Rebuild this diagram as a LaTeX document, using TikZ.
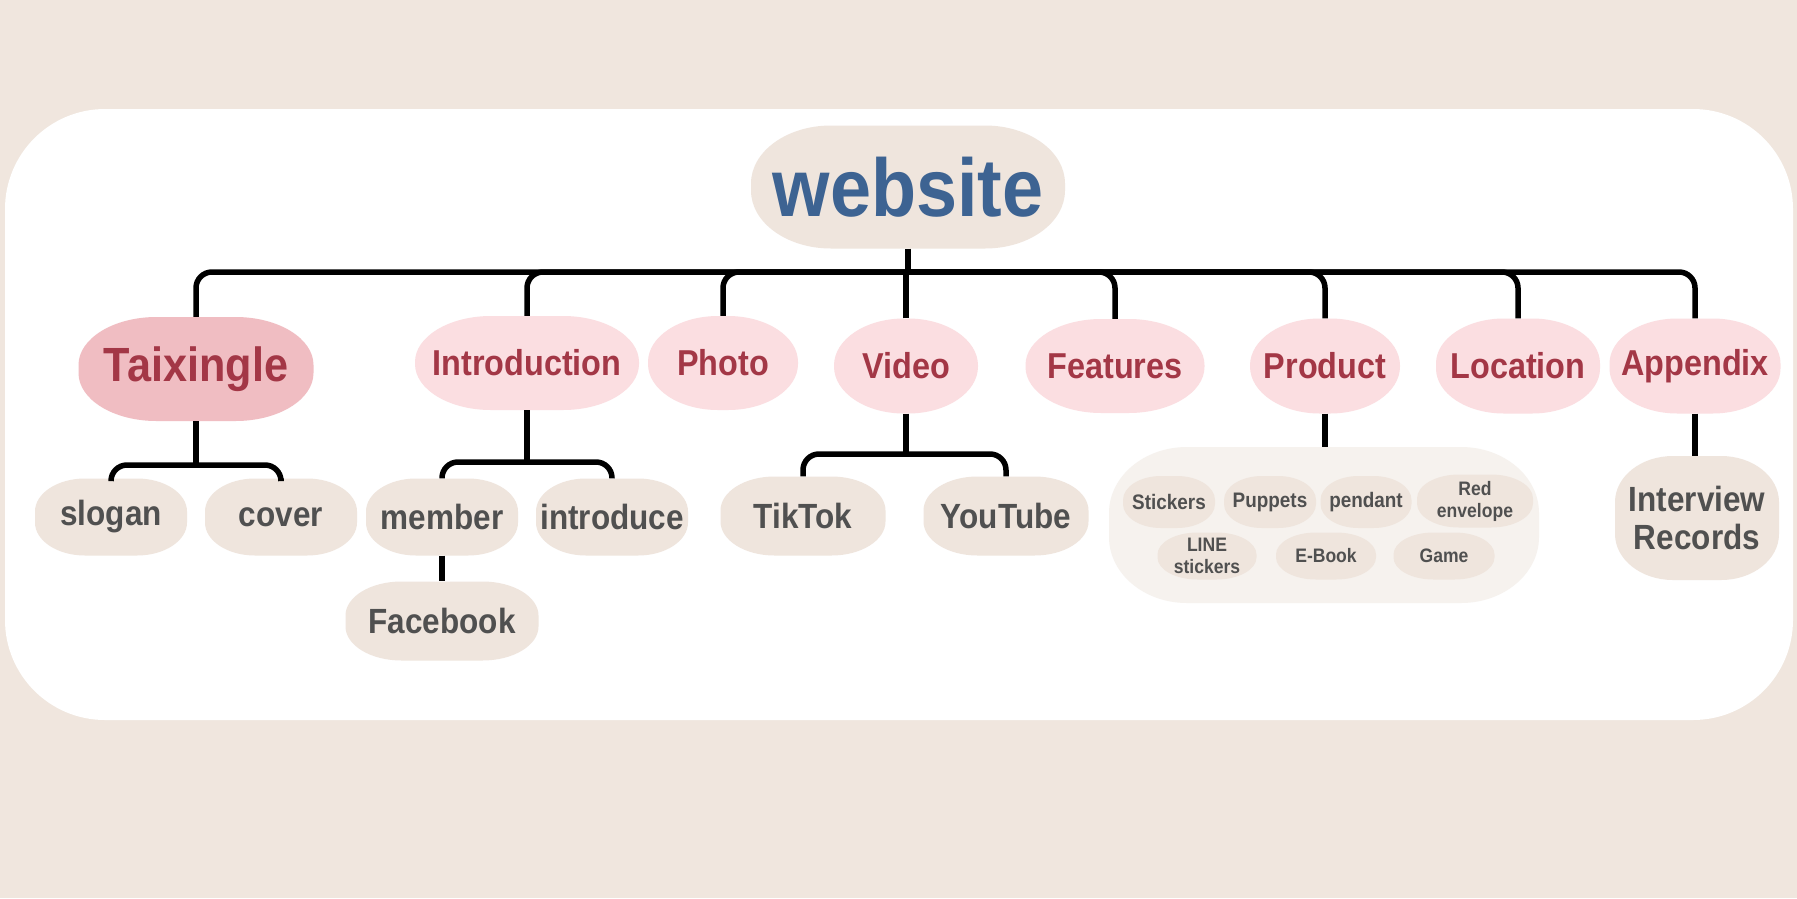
\documentclass[tikz,border=0pt]{standalone}
\usepackage{fontspec}
\setmainfont{Liberation Sans}[FakeStretch=0.9]
\definecolor{bgbeige}{RGB}{240,230,222}
\definecolor{nodebeige}{RGB}{239,229,221}
\definecolor{groupbeige}{RGB}{246,242,238}
\definecolor{pinkfill}{RGB}{251,222,225}
\definecolor{taifill}{RGB}{240,189,194}
\definecolor{redtext}{RGB}{163,55,70}
\definecolor{bluetext}{RGB}{61,99,146}
\definecolor{graytext}{RGB}{80,80,80}
% #1 style, #2 name, #3 cx, #4 cy, #5 w, #6 h, #7 corner x radius, #8 corner y radius, #9 text
\newcommand{\blobnode}[9]{%
  \fill[#1] ({#3-#5/2+#7},{#4-#6/2}) -- ++({#5-2*#7},0)
    arc[start angle=-90,end angle=0,x radius=#7,y radius=#8] -- ++(0,{#6-2*#8})
    arc[start angle=0,end angle=90,x radius=#7,y radius=#8] -- ++({-(#5-2*#7)},0)
    arc[start angle=90,end angle=180,x radius=#7,y radius=#8] -- ++(0,{-(#6-2*#8)})
    arc[start angle=180,end angle=270,x radius=#7,y radius=#8] -- cycle;
  \node[#1, fill=none, minimum width=#5pt, minimum height=#6pt] (#2) at (#3,#4) {#9};}
\begin{document}
\begin{tikzpicture}[x=1pt,y=-1pt,
  conn/.style={line width=5.5pt, black, rounded corners=16pt},
  base/.style={rectangle, inner sep=0pt, align=center},
  rootstyle/.style={base, fill=nodebeige, text=bluetext, font=\bfseries\fontsize{82}{90}\selectfont},
  taistyle/.style={base, fill=taifill, text=redtext, font=\bfseries\fontsize{48}{52}\selectfont},
  toplvl/.style={base, fill=pinkfill, text=redtext, font=\bfseries\fontsize{36}{40}\selectfont},
  sublvl/.style={base, fill=nodebeige, text=graytext, font=\bfseries\fontsize{35}{38}\selectfont},
  groupstyle/.style={base, fill=groupbeige},
  item/.style={base, fill=nodebeige, text=graytext, font=\bfseries\fontsize{21}{24}\selectfont},
  itemb/.style={base, fill=nodebeige, text=graytext, font=\bfseries\fontsize{19.5}{22}\selectfont}]
\useasboundingbox (0,0) rectangle (1797,898);
\fill[bgbeige] (0,0) rectangle (1797,898);
\fill[white, rounded corners=100pt] (5,109) rectangle (1793,720);

% root
\blobnode{rootstyle}{web}{908}{187}{314}{123}{80}{58}{website}

% top level
\blobnode{taistyle}{tai}{196}{369}{235}{104}{78}{48}{Taixingle}
\blobnode{toplvl}{intro}{527}{363}{224}{94}{76}{46}{Introduction}
\blobnode{toplvl}{photo}{723}{363}{150}{94}{70}{46}{Photo}
\blobnode{toplvl}{video}{906}{366}{144}{95}{70}{47}{Video}
\blobnode{toplvl}{feat}{1115}{366}{179}{94}{76}{46}{Features}
\blobnode{toplvl}{prod}{1325}{366}{150}{95}{70}{47}{Product}
\blobnode{toplvl}{loc}{1518}{366}{164}{95}{68}{45}{Location}
\blobnode{toplvl}{app}{1695}{366}{171}{95}{68}{45}{Appendix}

% second level
\blobnode{sublvl}{slogan}{111}{517}{152}{77}{50}{33}{slogan}
\blobnode{sublvl}{cover}{281}{517}{152}{77}{50}{33}{cover}
\blobnode{sublvl}{member}{442}{517}{152}{77}{50}{33}{member}
\blobnode{sublvl}{introduce}{612}{517}{152}{77}{50}{33}{introduce}
\blobnode{sublvl}{fb}{442}{621}{193}{79}{56}{34}{Facebook}
\blobnode{sublvl}{tiktok}{803}{516}{165}{79}{54}{34}{TikTok}
\blobnode{sublvl}{yt}{1006}{516}{165}{79}{54}{34}{YouTube}
\blobnode{sublvl}{interview}{1697}{518}{164}{124}{58}{46}{Interview\\Records}

% product group
\blobnode{groupstyle}{group}{1324}{525}{430}{156}{78}{66}{}
\blobnode{item}{stickers}{1169}{502}{92}{52}{38}{24}{Stickers}
\blobnode{item}{puppets}{1270}{502}{92}{52}{38}{24}{Puppets}
\blobnode{item}{pendant}{1366}{502}{91}{52}{38}{24}{pendant}
\blobnode{itemb}{redenv}{1475}{501}{116}{53}{42}{24}{Red\\envelope}
\blobnode{itemb}{line}{1207}{556}{99}{47}{40}{22}{LINE\\stickers}
\blobnode{itemb}{ebook}{1326}{556}{100}{47}{40}{22}{E-Book}
\blobnode{itemb}{game}{1444}{556}{101}{47}{40}{22}{Game}

% connectors: root to top level
\coordinate (bus) at (908,272);
\draw[conn] (web.south) -- (bus);
\draw[conn] (tai.north) |- (bus);
\draw[conn] (intro.north) |- (bus);
\draw[conn] (photo.north) |- (bus);
\draw[conn] (video.north) -- (video.north |- bus);
\draw[conn] (feat.north) |- (bus);
\draw[conn] (prod.north) |- (bus);
\draw[conn] (loc.north) |- (bus);
\draw[conn] (app.north) |- (bus);

% Taixingle children
\coordinate (tbus) at (196,465);
\draw[conn] (tai.south) -- (tbus);
\draw[conn] (slogan.north) |- (tbus);
\draw[conn] (cover.north) |- (tbus);

% Introduction children
\coordinate (ibus) at (527,462);
\draw[conn] (intro.south) -- (ibus);
\draw[conn] (member.north) |- (ibus);
\draw[conn] (introduce.north) |- (ibus);
\draw[conn] (member.south) -- (fb.north);

% Video children
\coordinate (vbus) at (906,454);
\draw[conn] (video.south) -- (vbus);
\draw[conn] (tiktok.north) |- (vbus);
\draw[conn] (yt.north) |- (vbus);

% Product and Appendix
\draw[conn] (prod.south) -- (prod.south |- group.north);
\draw[conn] (app.south) -- (app.south |- interview.north);
\end{tikzpicture}
\end{document}
